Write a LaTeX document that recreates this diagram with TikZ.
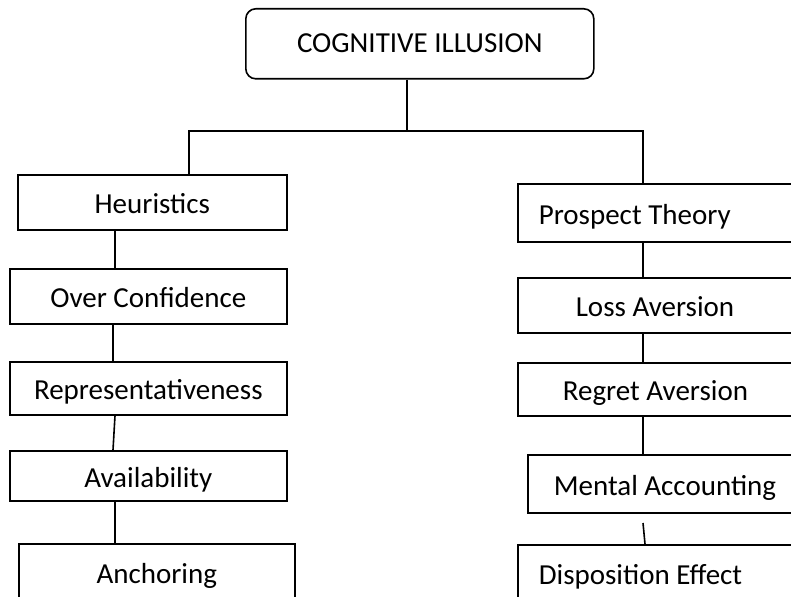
\documentclass[tikz,border=0pt]{standalone}
\usepackage{fontspec}
\setmainfont{Carlito}
\begin{document}
\begin{tikzpicture}[x=1pt,y=-1pt,
  every node/.style={font=\fontsize{29}{34}\selectfont},
  box/.style={draw, line width=1.6pt, inner ysep=0pt, inner xsep=0pt,
    text height=23pt, text depth=0pt, anchor=north west},
  rbox/.style={box, text width=280pt, align=flush left},
  link/.style={line width=1.6pt}]
\useasboundingbox (0,0) rectangle (791,596);
\clip (0,0) rectangle (791,596);
% top
\node[draw, rounded corners=10pt, line width=1.6pt, minimum width=348pt,
  minimum height=70pt, anchor=north west, text height=19pt, text depth=1pt,
  inner sep=0pt] (top) at (245,8) {COGNITIVE ILLUSION};
% left column
\node[box, minimum width=269pt, minimum height=55pt] (heur) at (17,174) {Heuristics};
\node[box, minimum width=277pt, minimum height=55pt] (oc) at (9,268) {Over Confidence};
\node[box, minimum width=277pt, minimum height=53pt] (rep) at (9,361) {Representativeness};
\node[box, minimum width=277pt, minimum height=50pt] (av) at (9,450) {Availability};
\node[box, minimum width=276pt, minimum height=57pt] (anc) at (18,543) {Anchoring};
% right column
\node[rbox, inner xsep=21pt, minimum height=58pt] (pt) at (517,183) {Prospect Theory};
\node[rbox, inner xsep=58pt, minimum height=55pt] (la) at (517,277) {Loss Aversion};
\node[rbox, inner xsep=45pt, minimum height=53pt] (ra) at (517,362) {Regret Aversion};
\node[rbox, inner xsep=26pt, minimum height=58pt] (ma) at (527,454) {Mental Accounting};
\node[rbox, inner xsep=21pt, minimum height=57pt] (ds) at (517,544) {Disposition Effect};
% connectors
\coordinate (j) at (407,131);
\coordinate (hl) at (189,131);
\coordinate (hr) at (643,131);
\coordinate (lx) at (115,0);
\coordinate (lx2) at (113,0);
\coordinate (rx2) at (645,0);
\coordinate (gap) at (643,523);
\draw[link] (top.south -| j) -- (j);
\draw[link] (heur.north -| hl) -- (hl) -- (hr) -- (hr |- pt.north);
\draw[link] (heur.south -| lx) -- (oc.north -| lx);
\draw[link] (oc.south -| lx2) -- (rep.north -| lx2);
\draw[link] (rep.south -| lx) -- (av.north -| lx2);
\draw[link] (av.south -| lx) -- (anc.north -| lx);
\draw[link] (pt.south -| hr) -- (la.north -| hr);
\draw[link] (la.south -| hr) -- (ra.north -| hr);
\draw[link] (ra.south -| hr) -- (ma.north -| hr);
\draw[link] (gap) -- (ds.north -| rx2);
\end{tikzpicture}
\end{document}
